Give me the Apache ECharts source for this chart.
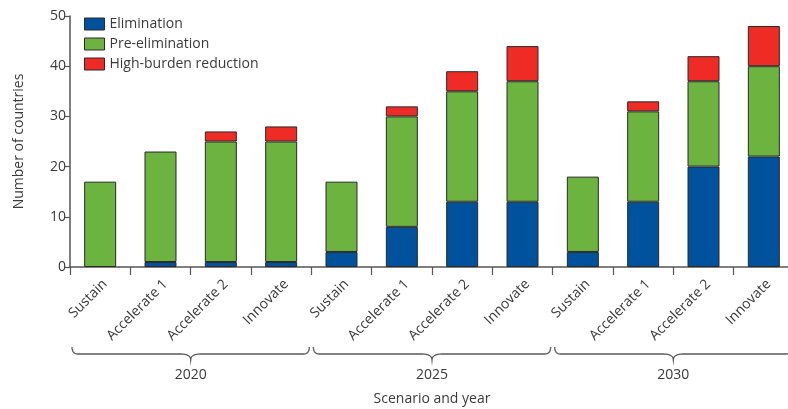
<!DOCTYPE html>
<html>
<head>
<meta charset="utf-8">
<script src="https://cdn.jsdelivr.net/npm/echarts@6/dist/echarts.min.js"></script>
<style>
  html, body { margin: 0; padding: 0; background: #fff; }
  #chart { width: 788px; height: 409px; }
</style>
</head>
<body>
<div id="chart"></div>
<script>
// Scenario labels repeated for each projection year
const scenarios = ['Sustain', 'Accelerate 1', 'Accelerate 2', 'Innovate'];
const years = ['2020', '2025', '2030'];
const categories = years.flatMap(() => scenarios);

// Number of countries per malaria stage, ordered year by year, scenario by scenario
const elimination    = [0, 1, 1, 1,   3, 8, 13, 13,   3, 13, 20, 22];
const preElimination = [17, 22, 24, 24,   14, 22, 22, 24,   15, 18, 17, 18];
const highBurden     = [0, 0, 2, 3,   0, 2, 4, 7,   0, 2, 5, 8];

const yTicks = { min: 0, max: 50, interval: 10 };

const FONT = '"Open Sans", "Noto Sans", sans-serif';
const TEXT = '#3a3a3a';
const AXIS = '#555';

const chart = echarts.init(document.getElementById('chart'), null, { renderer: 'canvas' });

const toBars = arr => arr.map(v => (v === 0 ? '-' : v));

function stageSeries(name, values, color) {
  return {
    name,
    type: 'bar',
    stack: 'stage',
    barWidth: 32,
    data: toBars(values),
    itemStyle: { color, borderColor: '#2a2a2a', borderWidth: 1 },
    emphasis: { disabled: true }
  };
}

chart.setOption({
  animation: false,
  textStyle: { fontFamily: FONT },
  grid: { left: 70, top: 16, width: 724, height: 251, outerBoundsMode: 'none', containLabel: false },
  legend: {
    orient: 'vertical',
    left: 79,
    top: 12,
    itemWidth: 20,
    itemHeight: 12,
    itemGap: 6,
    icon: 'rect',
    selectedMode: false,
    textStyle: { fontSize: 14, color: TEXT, fontFamily: FONT },
    itemStyle: { borderColor: '#2a2a2a', borderWidth: 1 },
    data: ['Elimination', 'Pre-elimination', 'High-burden reduction']
  },
  xAxis: [
    {
      type: 'category',
      data: categories,
      axisLine: { lineStyle: { color: AXIS, width: 1.5 } },
      axisTick: { show: true, length: 8, lineStyle: { color: AXIS, width: 1.2 } },
      axisLabel: {
        interval: 0, rotate: 45, fontSize: 14, color: TEXT, margin: 10,
        verticalAlign: 'top', fontFamily: FONT
      }
    },
    {
      type: 'category',
      data: years,
      position: 'bottom',
      offset: 101,
      axisLine: { show: false },
      axisTick: { show: false },
      axisLabel: { fontSize: 14, color: TEXT, margin: 0, fontFamily: FONT },
      name: 'Scenario and year',
      nameLocation: 'middle',
      nameGap: 24,
      nameTextStyle: { fontSize: 14, color: TEXT, fontFamily: FONT }
    }
  ],
  yAxis: {
    type: 'value',
    min: yTicks.min,
    max: yTicks.max,
    interval: yTicks.interval,
    name: 'Number of countries',
    nameLocation: 'middle',
    nameGap: 44,
    nameTextStyle: { fontSize: 14, color: TEXT, fontFamily: FONT },
    axisLine: { show: true, lineStyle: { color: AXIS, width: 1.5 } },
    axisTick: { show: true, length: 5, lineStyle: { color: AXIS, width: 1.2 } },
    axisLabel: { fontSize: 14, color: TEXT, margin: 4, fontFamily: FONT },
    splitLine: { show: false }
  },
  series: [
    stageSeries('Elimination', elimination, '#00529c'),
    stageSeries('Pre-elimination', preElimination, '#6db33f'),
    stageSeries('High-burden reduction', highBurden, '#ee2b24')
  ]
});

// Curly braces grouping the four scenarios of each year, traced as polylines
function quad(p0, p1, p2, steps) {
  const pts = [];
  for (let i = 1; i <= steps; i++) {
    const t = i / steps, u = 1 - t;
    pts.push([u * u * p0[0] + 2 * u * t * p1[0] + t * t * p2[0],
              u * u * p0[1] + 2 * u * t * p1[1] + t * t * p2[1]]);
  }
  return pts;
}

function bracePoints(x0, x1, yTop, yMid, yTip, rEnd, rMid) {
  const xc = (x0 + x1) / 2;
  let pts = [[x0, yTop]];
  pts = pts.concat(quad([x0, yTop], [x0, yMid], [x0 + rEnd, yMid], 8));
  pts.push([xc - rMid, yMid]);
  pts = pts.concat(quad([xc - rMid, yMid], [xc, yMid], [xc, yTip], 8));
  pts = pts.concat(quad([xc, yTip], [xc, yMid], [xc + rMid, yMid], 8));
  pts.push([x1 - rEnd, yMid]);
  pts = pts.concat(quad([x1 - rEnd, yMid], [x1, yMid], [x1, yTop], 8));
  return pts;
}

// Category positions by index (scenario names repeat across years)
const c0 = chart.convertToPixel({ xAxisIndex: 0 }, 0);
const c1 = chart.convertToPixel({ xAxisIndex: 0 }, 1);
const band = c1 - c0;
const braces = years.map((y, i) => {
  const start = c0 - band / 2 + i * scenarios.length * band;
  const end = start + scenarios.length * band;
  return {
    id: 'brace-' + y,
    type: 'polyline',
    shape: { points: bracePoints(start + 2, end - 2, 347, 354, 360, 6, 10) },
    style: { fill: null, stroke: '#5a5a5a', lineWidth: 1.3 },
    silent: true
  };
});
chart.setOption({ graphic: { elements: braces } });
</script>
</body>
</html>
